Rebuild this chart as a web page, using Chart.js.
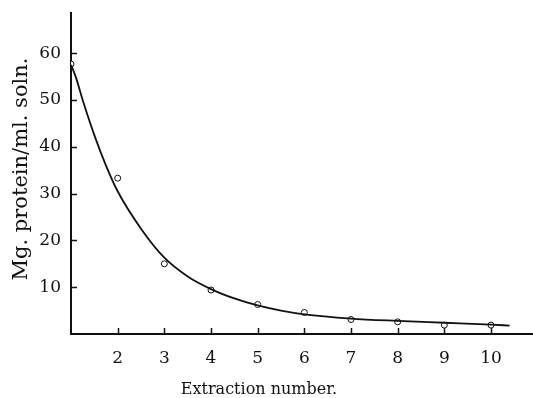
<!DOCTYPE html>
<html>
<head>
<meta charset="utf-8">
<script src="https://cdn.jsdelivr.net/npm/chart.js@4.4.0/dist/chart.umd.min.js"></script>
<style>
  html, body { margin: 0; padding: 0; background: #fff; }
  #wrap { width: 533px; height: 398px; position: relative; }
</style>
</head>
<body>
<div id="wrap"><canvas id="chart"></canvas></div>
<script>
// measured points (open circles)
const extraction = [1, 2, 3, 4, 5, 6, 7, 8, 9, 10];
const protein = [57.7, 33.3, 15.0, 9.4, 6.3, 4.6, 3.1, 2.6, 1.9, 1.9];

// hand-drawn fitted curve
const curveX = [1, 1.1, 1.25, 1.5, 1.75, 2, 2.5, 3, 3.5, 4, 4.5, 5, 5.5, 6, 7, 8, 9, 10, 10.4];
const curveY = [57.5, 55, 50, 42.5, 36, 30.5, 22.5, 16.3, 12.3, 9.6, 7.6, 6.1, 5.0, 4.2, 3.3, 2.8, 2.4, 2.0, 1.8];

const xTicks = [2, 3, 4, 5, 6, 7, 8, 9, 10];
const yTicks = [10, 20, 30, 40, 50, 60];

const xTitle = 'Extraction number.';
const yTitle = 'Mg. protein/ml. soln.';

const FONT = '"DejaVu Serif", serif';

// inward tick marks + axis titles
var paperAxes = {
  id: 'paperAxes',
  afterDraw(chart) {
    const { ctx, chartArea: { left, bottom }, scales: { x, y } } = chart;
    ctx.save();
    ctx.strokeStyle = '#111';
    ctx.lineWidth = 1.5;
    ctx.beginPath();
    xTicks.forEach(v => {
      const px = Math.round(x.getPixelForValue(v)) + 0.5;
      ctx.moveTo(px, bottom);
      ctx.lineTo(px, bottom - 6);
    });
    yTicks.forEach(v => {
      const py = Math.round(y.getPixelForValue(v)) + 0.5;
      ctx.moveTo(left, py);
      ctx.lineTo(left + 6, py);
    });
    ctx.stroke();

    ctx.fillStyle = '#111';
    ctx.font = '16px ' + FONT;
    ctx.textAlign = 'center';
    ctx.textBaseline = 'alphabetic';
    ctx.fillText(xTitle, 259, 394);

    ctx.translate(27, 169);
    ctx.rotate(-Math.PI / 2);
    ctx.font = '21px ' + FONT;
    ctx.fillText(yTitle, 0, 0);
    ctx.restore();
  }
};

new Chart(document.getElementById('chart'), {
  type: 'scatter',
  data: {
    datasets: [
      {
        label: 'curve',
        data: curveX.map((v, i) => ({ x: v, y: curveY[i] })),
        showLine: true,
        borderColor: '#111',
        borderWidth: 1.8,
        pointRadius: 0,
        cubicInterpolationMode: 'monotone'
      },
      {
        label: 'measured',
        data: extraction.map((v, i) => ({ x: v, y: protein[i] })),
        pointStyle: 'circle',
        pointRadius: 3,
        backgroundColor: '#fff',
        borderColor: '#111',
        borderWidth: 1
      }
    ]
  },
  options: {
    responsive: true,
    maintainAspectRatio: false,
    animation: false,
    layout: { autoPadding: false, padding: { top: 13, right: 0, left: 0, bottom: 0 } },
    plugins: { legend: { display: false }, tooltip: { enabled: false } },
    scales: {
      x: {
        type: 'linear',
        min: 1,
        max: 10.9,
        grid: { display: false },
        border: { display: true, color: '#111', width: 2 },
        afterBuildTicks: s => { s.ticks = xTicks.map(v => ({ value: v })); },
        afterFit: s => { s.height = 64; s.paddingLeft = 0; s.paddingRight = 0; },
        ticks: { color: '#111', font: { family: FONT, size: 17 }, padding: 6, maxRotation: 0 }
      },
      y: {
        type: 'linear',
        min: 0,
        max: 68.6,
        grid: { display: false },
        border: { display: true, color: '#111', width: 2 },
        afterBuildTicks: s => { s.ticks = yTicks.map(v => ({ value: v })); },
        afterFit: s => { s.width = 71; s.paddingTop = 0; s.paddingBottom = 0; },
        ticks: { color: '#111', font: { family: FONT, size: 17 }, padding: 2 }
      }
    }
  },
  plugins: [paperAxes]
});
</script>
</body>
</html>
